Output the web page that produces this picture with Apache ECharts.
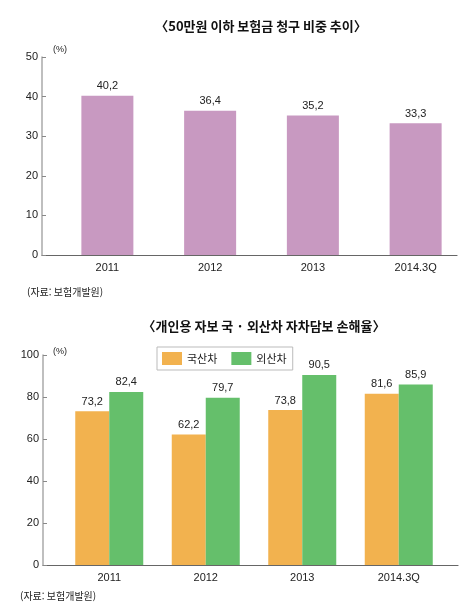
<!DOCTYPE html>
<html lang="ko">
  <head>
    <meta charset="UTF-8" />
    <title>보험금 청구 비중 / 자차담보 손해율</title>
    <script src="https://cdn.jsdelivr.net/npm/echarts@6.0.0/dist/echarts.min.js"></script>
    <style>
      body { margin: 0; background: #fff; }
    </style>
  </head>
  <body>
    <div id="main" style="width: 470px; height: 610px"></div>
    <script type="text/javascript">
      // chart data
      const categories = ["2011", "2012", "2013", "2014.3Q"];
      const smallClaimShare = [40.2, 36.4, 35.2, 33.3];
      const domesticLossRatio = [73.2, 62.2, 73.8, 81.6];
      const importedLossRatio = [82.4, 79.7, 90.5, 85.9];
      const topTicks = [0, 10, 20, 30, 40, 50];
      const bottomTicks = [0, 20, 40, 60, 80, 100];

      const KR = "'Noto Sans CJK KR', sans-serif";
      const NUM = "'Liberation Sans Narrow', 'Liberation Sans', sans-serif";

      let myChart = echarts.init(document.getElementById("main"));

      // y axis with the visible line/ticks/labels (full width grid)
      function lineYAxis(grid, ticks) {
        return {
          type: "value",
          gridIndex: grid,
          min: ticks[0],
          max: ticks[ticks.length - 1],
          interval: ticks[1] - ticks[0],
          axisLine: { show: true, lineStyle: { color: "#aaa", width: 1.5 } },
          axisTick: { show: true, inside: true, length: 4, lineStyle: { color: "#888" } },
          axisLabel: { color: "#222", fontSize: 11, fontFamily: NUM, margin: 4 },
          splitLine: { show: false },
        };
      }
      // hidden y axis for the bar grid, same scale
      function hiddenYAxis(grid, ticks) {
        return {
          type: "value",
          gridIndex: grid,
          min: ticks[0],
          max: ticks[ticks.length - 1],
          interval: ticks[1] - ticks[0],
          show: false,
          splitLine: { show: false },
        };
      }
      function lineXAxis(grid) {
        return {
          type: "category",
          gridIndex: grid,
          data: categories,
          axisLine: { show: true, lineStyle: { color: "#666", width: 1.2 } },
          axisTick: { show: false },
          axisLabel: { show: false },
        };
      }
      function labelXAxis(grid) {
        return {
          type: "category",
          gridIndex: grid,
          data: categories,
          axisLine: { show: false },
          axisTick: { show: false },
          axisLabel: { color: "#222", fontSize: 11, fontFamily: NUM, margin: 7 },
        };
      }

      const valueLabel = {
        show: true,
        position: "top",
        distance: 4,
        color: "#222",
        fontSize: 11,
        fontFamily: NUM,
        formatter: (p) => p.value.toFixed(1).replace(".", ","),
      };

      let options = {
        animation: false,
        textStyle: { fontFamily: KR },
        title: [
          {
            text: "〈50만원 이하 보험금 청구 비중 추이〉",
            left: 256, top: 15, textAlign: "center",
            textStyle: { fontSize: 13, fontWeight: "bold", color: "#111", fontFamily: KR },
          },
          {
            text: "(%)",
            left: 48, top: 40,
            textStyle: { fontSize: 9, fontWeight: "normal", color: "#222", fontFamily: NUM },
          },
          {
            text: "(자료: 보험개발원)",
            left: 22, top: 282,
            textStyle: { fontSize: 10, fontWeight: "normal", color: "#222", fontFamily: KR },
          },
          {
            text: "〈개인용 자보 국 · 외산차 자차담보 손해율〉",
            left: 259, top: 315, textAlign: "center",
            textStyle: { fontSize: 13, fontWeight: "bold", color: "#111", fontFamily: KR },
          },
          {
            text: "(%)",
            left: 48, top: 342,
            textStyle: { fontSize: 9, fontWeight: "normal", color: "#222", fontFamily: NUM },
          },
          {
            text: "(자료: 보험개발원)",
            left: 15, top: 586,
            textStyle: { fontSize: 10, fontWeight: "normal", color: "#222", fontFamily: KR },
          },
        ],
        legend: {
          data: ["국산차", "외산차"],
          left: 157, top: 347,
          width: 130,
          padding: [5, 6, 5, 5],
          itemGap: 14,
          itemWidth: 20,
          itemHeight: 13,
          borderColor: "#bbb",
          borderWidth: 1,
          icon: "rect",
          textStyle: { fontSize: 11, color: "#222", fontFamily: KR },
        },
        grid: [
          { left: 42, right: 13, top: 57, height: 198 },  // top axes
          { left: 56, right: 3, top: 57, height: 198 },   // top bars
          { left: 43, right: 12, top: 355, height: 210 }, // bottom axes
          { left: 61, right: 23, top: 355, height: 210 }, // bottom bars
        ],
        xAxis: [lineXAxis(0), labelXAxis(1), lineXAxis(2), labelXAxis(3)],
        yAxis: [
          lineYAxis(0, topTicks),
          hiddenYAxis(1, topTicks),
          lineYAxis(2, bottomTicks),
          hiddenYAxis(3, bottomTicks),
        ],
        series: [
          {
            name: "비중",
            type: "bar",
            xAxisIndex: 1,
            yAxisIndex: 1,
            barWidth: 52,
            data: smallClaimShare,
            itemStyle: { color: "#c899c1" },
            label: valueLabel,
          },
          {
            name: "국산차",
            type: "bar",
            xAxisIndex: 3,
            yAxisIndex: 3,
            barWidth: 34,
            barGap: "0%",
            data: domesticLossRatio,
            itemStyle: { color: "#f2b24f" },
            label: valueLabel,
          },
          {
            name: "외산차",
            type: "bar",
            xAxisIndex: 3,
            yAxisIndex: 3,
            barWidth: 34,
            barGap: "0%",
            data: importedLossRatio,
            itemStyle: { color: "#65bf6b" },
            label: valueLabel,
          },
        ],
      };

      myChart.setOption(options);
    </script>
  </body>
</html>
